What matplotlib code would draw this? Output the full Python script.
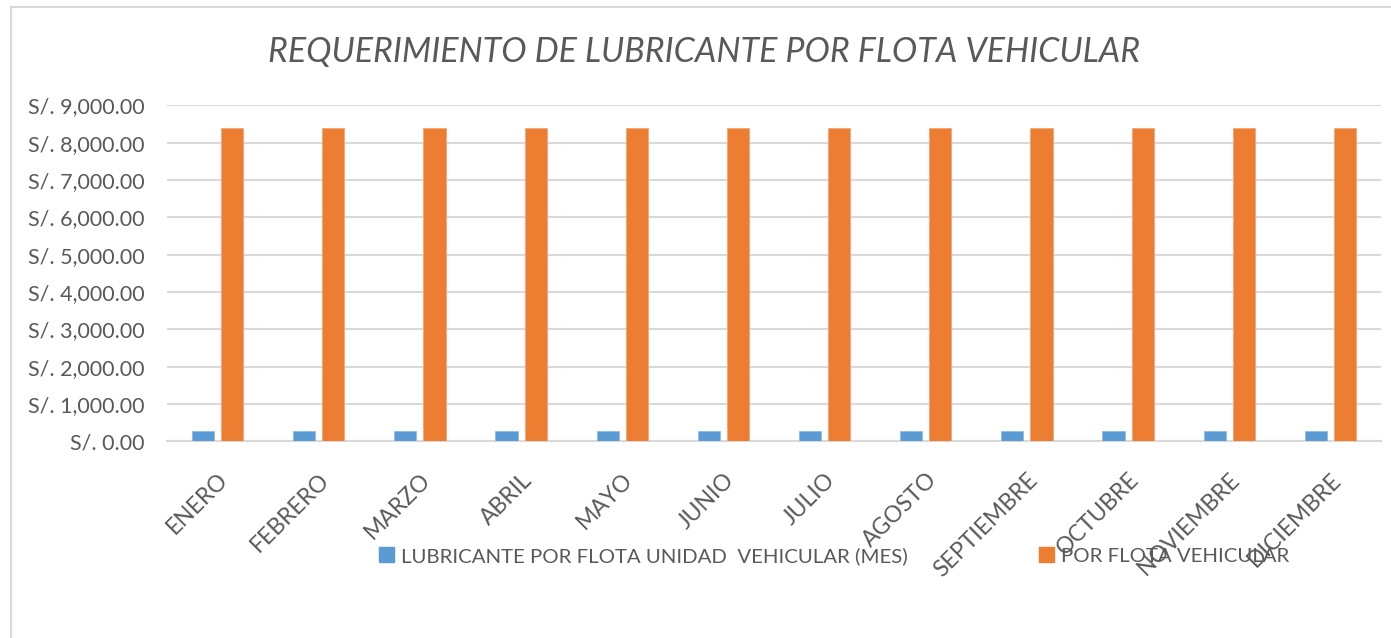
import matplotlib.pyplot as plt
from matplotlib.lines import Line2D
from matplotlib.patches import Patch
import numpy as np

plt.rcParams["font.family"] = ["Lato", "DejaVu Sans"]

months = ["ENERO", "FEBRERO", "MARZO", "ABRIL", "MAYO", "JUNIO", "JULIO",
          "AGOSTO", "SEPTIEMBRE", "OCTUBRE", "NOVIEMBRE", "DICIEMBRE"]
por_unidad = [280] * 12
por_flota = [8400] * 12
yticks = list(range(0, 10000, 1000))

series_names = ["LUBRICANTE POR FLOTA UNIDAD  VEHICULAR (MES)", "POR FLOTA VEHICULAR"]
blue = "#5B9BD5"
orange = "#ED7D31"
txt = "#595959"

W, H = 1391, 638
fig = plt.figure(figsize=(W / 100, H / 100), dpi=100)
ax = fig.add_axes([167 / W, 1 - 441.3 / H, (1381 - 167) / W, (441.3 - 105.3) / H])

x = np.arange(len(months))
bw = 0.218
off = 0.144
ax.bar(x - off, por_unidad, bw, color=blue, edgecolor="#8fbbe3", linewidth=0.6, zorder=3)
ax.bar(x + off, por_flota, bw, color=orange, edgecolor="#f3a478", linewidth=0.6, zorder=3)

ax.set_xlim(-0.5, len(months) - 0.5)
ax.set_ylim(0, 9000)
ax.set_yticks(yticks)
ax.set_yticklabels([f"S/. {v:,.2f}" for v in yticks], color=txt, fontsize=15.5)
ax.yaxis.grid(True, color="#d9d9d9", linewidth=1.5, zorder=0)
ax.tick_params(axis="y", length=0, pad=16)
ax.set_xticks(x)
ax.set_xticklabels(months, rotation=45, ha="right", va="top", rotation_mode="anchor",
                   color=txt, fontsize=16.5)
ax.tick_params(axis="x", length=0, pad=20)
for s in ["top", "right", "left"]:
    ax.spines[s].set_visible(False)
ax.spines["bottom"].set_color("#d9d9d9")
ax.spines["bottom"].set_linewidth(1.5)

fig.text(0.5 * (268 + 1140) / W, 1 - 62 / H, "REQUERIMIENTO DE LUBRICANTE POR FLOTA VEHICULAR",
         ha="center", va="baseline", fontsize=24.5, style="italic", color=txt)

handles = [Patch(color=blue), Patch(color=orange)]
fig.legend(handles, series_names, loc="center", bbox_to_anchor=(834 / W, 1 - 556 / H),
           ncol=2, frameon=False, fontsize=14.7, labelcolor=txt,
           handlelength=0.75, handleheight=0.75, handletextpad=0.35, columnspacing=6.4)

# chart area border (partially visible)
fig.add_artist(Line2D([10.5 / W, 10.5 / W], [0, 1 - 7 / H], color="#d9d9d9", linewidth=1.5))
fig.add_artist(Line2D([10.5 / W, 1], [1 - 7 / H, 1 - 7 / H], color="#d9d9d9", linewidth=1.5))

fig.savefig("out.png", dpi=100)
